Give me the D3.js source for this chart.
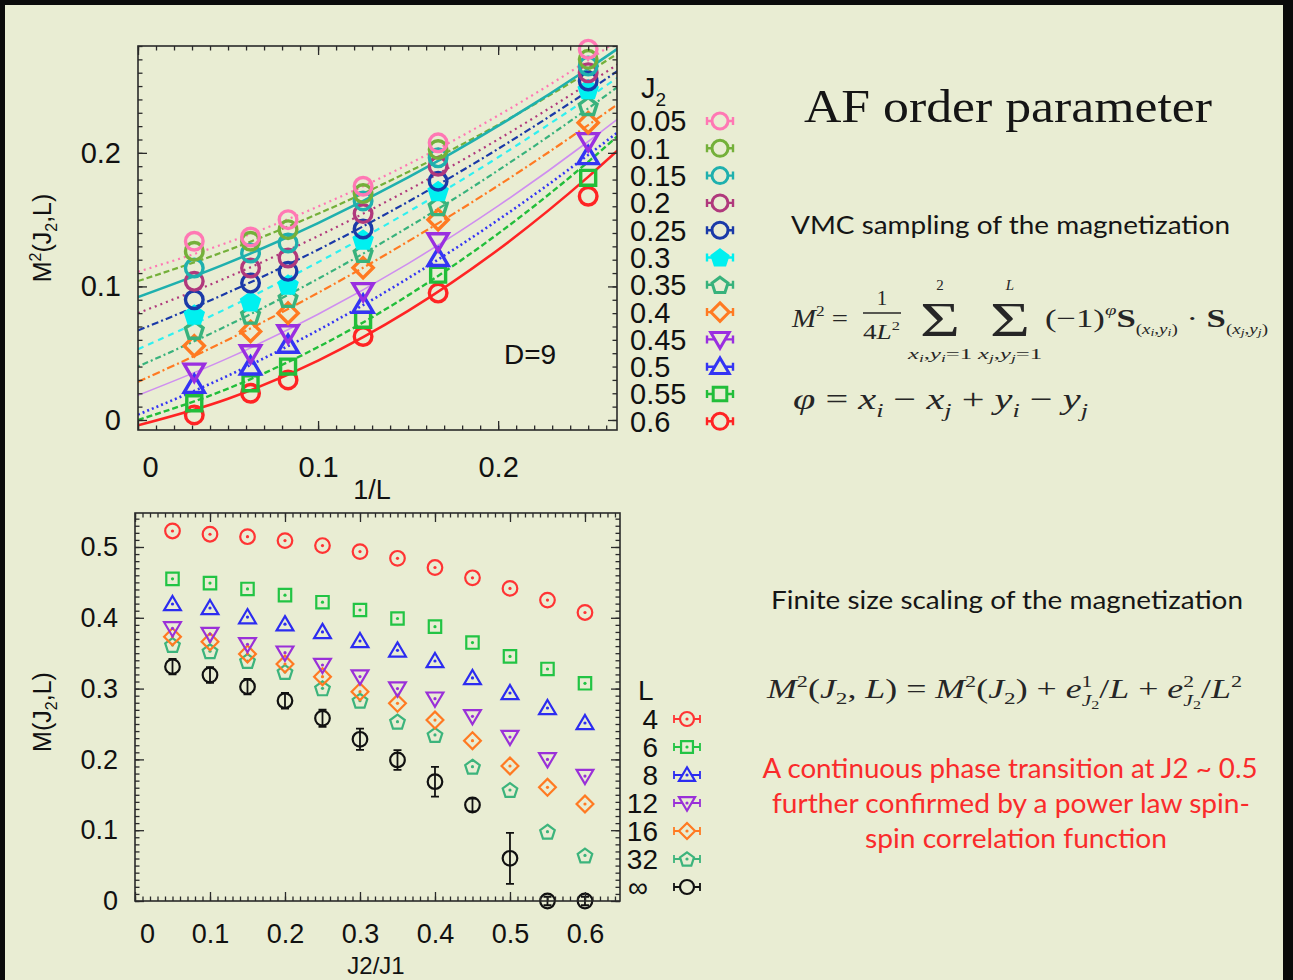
<!DOCTYPE html>
<html lang="en">
<head>
<meta charset="UTF-8">
<title>AF order parameter</title>
<script src="https://d3js.org/d3.v7.min.js"></script>
<style>
  body { margin: 0; background: #000; }
  svg { display: block; }
</style>
</head>
<body>
<svg id="slide" width="1293" height="980"></svg>
<script>
// ---------- data ----------
// top panel: M^2(J2,L) against 1/L, system sizes L
const Lsizes = [32, 16, 12, 8, 6, 4];
const j2Top = ['0.05', '0.1', '0.15', '0.2', '0.25', '0.3', '0.35', '0.4', '0.45', '0.5', '0.55', '0.6'];
const m2_005 = [0.1338, 0.1370, 0.1500, 0.1750, 0.2075, 0.2776];
const m2_010 = [0.1263, 0.1338, 0.1425, 0.1695, 0.2025, 0.2700];
const m2_015 = [0.1138, 0.1250, 0.1325, 0.1640, 0.1963, 0.2650];
const m2_020 = [0.1038, 0.1138, 0.1213, 0.1545, 0.1900, 0.2600];
const m2_025 = [0.0900, 0.1025, 0.1113, 0.1430, 0.1788, 0.2538];
const m2_030 = [0.0788, 0.0888, 0.1013, 0.1350, 0.1713, 0.2476];
const m2_035 = [0.0675, 0.0788, 0.0913, 0.1250, 0.1600, 0.2350];
const m2_040 = [0.0555, 0.0663, 0.0800, 0.1140, 0.1500, 0.2226];
const m2_045 = [0.0362, 0.0500, 0.0650, 0.0965, 0.1338, 0.2088];
const m2_050 = [0.0263, 0.0400, 0.0563, 0.0863, 0.1213, 0.1975];
const m2_055 = [0.0125, 0.0275, 0.0400, 0.0750, 0.1088, 0.1813];
const m2_060 = [0.0038, 0.0200, 0.0300, 0.0625, 0.0950, 0.1675];

// fitted curves, read at these 1/L positions
const fitX = [0, 0.05, 0.1, 0.15, 0.2, 0.25, 0.27];
const fit_005 = [0.111, 0.1330, 0.1598, 0.1914, 0.2280, 0.2693, 0.2873];
const fit_010 = [0.104, 0.1271, 0.1544, 0.1857, 0.2210, 0.2605, 0.2774];
const fit_015 = [0.092, 0.1176, 0.1474, 0.1816, 0.2202, 0.2630, 0.2814];
const fit_020 = [0.080, 0.1070, 0.1377, 0.1721, 0.2101, 0.2518, 0.2695];
const fit_025 = [0.067, 0.0954, 0.1275, 0.1634, 0.2030, 0.2463, 0.2647];
const fit_030 = [0.053, 0.0839, 0.1181, 0.1557, 0.1967, 0.2411, 0.2598];
const fit_035 = [0.040, 0.0709, 0.1057, 0.1443, 0.1869, 0.2333, 0.2530];
const fit_040 = [0.0285, 0.0601, 0.0952, 0.1337, 0.1755, 0.2208, 0.2399];
const fit_045 = [0.0185, 0.0463, 0.0791, 0.1171, 0.1603, 0.2085, 0.2292];
const fit_050 = [0.004, 0.0332, 0.0672, 0.1061, 0.1498, 0.1984, 0.2192];
const fit_055 = [0.000, 0.0235, 0.0546, 0.0933, 0.1395, 0.1933, 0.2169];
const fit_060 = [-0.004, 0.0159, 0.0445, 0.0817, 0.1275, 0.1820, 0.2062];

const topXTicks = [0, 0.1, 0.2];
const topYTicks = [0, 0.1, 0.2];

// bottom panel: M(J2,L) against J2/J1
const j2Bottom = [0.05, 0.1, 0.15, 0.2, 0.25, 0.3, 0.35, 0.4, 0.45, 0.5, 0.55, 0.6];
const legendL = ['4', '6', '8', '12', '16', '32', '\u221e'];
const mL4 = [0.5226, 0.5180, 0.5145, 0.5090, 0.5020, 0.4935, 0.4840, 0.4710, 0.4565, 0.4415, 0.4250, 0.4075];
const mL6 = [0.4550, 0.4490, 0.4407, 0.4320, 0.4220, 0.4110, 0.3990, 0.3875, 0.3650, 0.3455, 0.3277, 0.3075];
const mL8 = [0.4195, 0.4138, 0.4010, 0.3910, 0.3800, 0.3672, 0.3540, 0.3390, 0.3150, 0.2938, 0.2726, 0.2514];
const mL12 = [0.3850, 0.3770, 0.3626, 0.3507, 0.3333, 0.3170, 0.3000, 0.2857, 0.2609, 0.2316, 0.2000, 0.1765];
const mL16 = [0.3733, 0.3662, 0.3489, 0.3347, 0.3168, 0.2956, 0.2792, 0.2556, 0.2264, 0.1907, 0.1606, 0.1370];
const mL32 = [0.3616, 0.3528, 0.3390, 0.3234, 0.3004, 0.2829, 0.2533, 0.2345, 0.1897, 0.1568, 0.0979, 0.0643];
const mInf = [0.3310, 0.3192, 0.3027, 0.2829, 0.2581, 0.2284, 0.1992, 0.1685, 0.1356, 0.0603, 0, 0];
const mInfErr = [0.011, 0.011, 0.011, 0.011, 0.012, 0.015, 0.014, 0.021, 0.009, 0.036, 0.006, 0.006];

const botXTicks = [0, 0.1, 0.2, 0.3, 0.4, 0.5, 0.6];
const botYTicks = [0, 0.1, 0.2, 0.3, 0.4, 0.5];

// ---------- styles ----------
const topColors = ['#ff78b4', '#74b03a', '#1fb0ae', '#b0397c', '#1a3aa8', '#00f0f0',
                   '#38b27c', '#ff7a22', '#9a2fe0', '#3434f4', '#22be3a', '#ff2424'];
const topLineColors = ['#ff78b4', '#74b03a', '#1fb0ae', '#b0397c', '#1a3aa8', '#30f0f0',
                       '#38b27c', '#ff7a22', '#cf8ef0', '#3434f4', '#22be3a', '#ff2424'];
const topShapes = ['circle', 'circle', 'circle', 'circle', 'circle', 'pentagonFill',
                   'pentagon', 'diamond', 'triDown', 'triUp', 'square', 'circle'];
const topDash = ['2,4', '6,3', null, '2,4', '7,3,2,3', '6,5', '2,3,6,3', '8,3,2,3', null, '2,3', '6,3', null];
const topWidth = [2.2, 2.2, 2.6, 2.2, 2.2, 2.2, 2.2, 2.2, 1.6, 2.6, 2.4, 2.6];

const botColors = ['#ff3434', '#22c444', '#2c2cf0', '#9a30d8', '#ff7a22', '#3cb47c', '#111111'];
const botShapes = ['circle', 'square', 'triUp', 'triDown', 'diamond', 'pentagon', 'circle'];

const axisFont = '"Liberation Sans", Arial, sans-serif';
const serif = '"Liberation Serif", "Times New Roman", serif';
const slideFont = 'Lato, "Open Sans", sans-serif';
const mathInk = '#262626';

function shapePath(type, r) {
  const p = d3.path();
  if (type === 'circle') {
    p.moveTo(r, 0); p.arc(0, 0, r, 0, 2 * Math.PI);
  } else if (type === 'square') {
    const s = r * 0.85; p.rect(-s, -s, 2 * s, 2 * s);
  } else if (type === 'triUp') {
    p.moveTo(0, -r * 1.1); p.lineTo(r * 1.15, r * 0.85); p.lineTo(-r * 1.15, r * 0.85); p.closePath();
  } else if (type === 'triDown') {
    p.moveTo(0, r * 1.1); p.lineTo(r * 1.15, -r * 0.85); p.lineTo(-r * 1.15, -r * 0.85); p.closePath();
  } else if (type === 'diamond') {
    p.moveTo(0, -r * 1.15); p.lineTo(r * 1.15, 0); p.lineTo(0, r * 1.15); p.lineTo(-r * 1.15, 0); p.closePath();
  } else {
    for (let k = 0; k < 5; k++) {
      const a = -Math.PI / 2 + k * 2 * Math.PI / 5;
      const px = r * 1.05 * Math.cos(a), py = r * 1.05 * Math.sin(a) + r * 0.1;
      k === 0 ? p.moveTo(px, py) : p.lineTo(px, py);
    }
    p.closePath();
  }
  return p.toString();
}

const svg = d3.select('#slide');
svg.append('rect').attr('width', 1293).attr('height', 980).attr('fill', '#0b0b0b');
svg.append('rect').attr('x', 5).attr('y', 5).attr('width', 1278).attr('height', 975).attr('fill', '#e9edd3');

// axis helper: ticks on all four sides pointing inward, labels on left/bottom
function drawFrame(g, x, y, xMajor, yMajor, xMinorStep, yMinorStep, fontSize, xPad, yPad) {
  const [x0, x1] = x.range(), [y0, y1] = y.range();
  const xd = x.domain(), yd = y.domain();
  const xMinor = d3.range(Math.ceil(xd[0] / xMinorStep) * xMinorStep, xd[1], xMinorStep);
  const yMinor = d3.range(Math.ceil(yd[0] / yMinorStep) * yMinorStep, yd[1], yMinorStep);
  const sides = [
    [d3.axisBottom, x, `translate(0,${y0})`, xMinor, xMajor, true],
    [d3.axisTop, x, `translate(0,${y1})`, xMinor, xMajor, false],
    [d3.axisLeft, y, `translate(${x0},0)`, yMinor, yMajor, true],
    [d3.axisRight, y, `translate(${x1},0)`, yMinor, yMajor, false]
  ];
  sides.forEach(([ax, sc, tr, minor, major, labels]) => {
    g.append('g').attr('transform', tr)
      .call(ax(sc).tickValues(minor).tickSize(-4.5).tickFormat(''))
      .call(s => s.select('.domain').remove());
    const isX = ax === d3.axisBottom || ax === d3.axisTop;
    g.append('g').attr('transform', tr).attr('class', labels ? (isX ? 'xlab' : 'ylab') : null)
      .call(ax(sc).tickValues(major).tickSize(-9)
        .tickPadding(isX ? xPad : yPad)
        .tickFormat(labels ? d3.format('') : ''))
      .call(s => s.select('.domain').remove());
  });
  g.selectAll('.tick line').attr('stroke', '#2a2a2a').attr('stroke-width', 1.3);
  g.selectAll('.tick text').attr('fill', '#111').attr('font-family', axisFont).attr('font-size', fontSize);
  g.append('rect').attr('x', x0).attr('y', y1).attr('width', x1 - x0).attr('height', y0 - y1)
    .attr('fill', 'none').attr('stroke', '#2a2a2a').attr('stroke-width', 1.6);
  // first x label is nudged right, as on the slide
  g.select('.xlab .tick text').attr('dx', 12);
}

// ================= top panel =================
const xT = d3.scaleLinear().domain([0, 0.266]).range([138, 617]);
const yT = d3.scaleLinear().domain([-0.0075, 0.28]).range([430, 46]);
const topPanel = svg.append('g');

svg.append('clipPath').attr('id', 'clipTop').append('rect')
  .attr('x', 138).attr('y', 46).attr('width', 479).attr('height', 384);

const topSeries = [m2_005, m2_010, m2_015, m2_020, m2_025, m2_030, m2_035, m2_040, m2_045, m2_050, m2_055, m2_060];
const topFits = [fit_005, fit_010, fit_015, fit_020, fit_025, fit_030, fit_035, fit_040, fit_045, fit_050, fit_055, fit_060];

const fitLine = d3.line().x(d => xT(d[0])).y(d => yT(d[1])).curve(d3.curveMonotoneX);
const lines = topPanel.append('g').attr('clip-path', 'url(#clipTop)');
topFits.forEach((f, i) => {
  lines.append('path')
    .attr('d', fitLine(fitX.map((xv, k) => [xv, f[k]])))
    .attr('fill', 'none')
    .attr('stroke', topLineColors[i])
    .attr('stroke-width', topWidth[i])
    .attr('stroke-dasharray', topDash[i]);
});

const topMarks = topPanel.append('g');
for (let i = topSeries.length - 1; i >= 0; i--) {
  topSeries[i].forEach((v, k) => {
    const filled = topShapes[i] === 'pentagonFill';
    topMarks.append('path')
      .attr('transform', `translate(${xT(1 / Lsizes[k])},${yT(v)})`)
      .attr('d', shapePath(filled ? 'pentagon' : topShapes[i], 8.8))
      .attr('fill', filled ? topColors[i] : 'none')
      .attr('stroke', topColors[i])
      .attr('stroke-width', 3.4);
  });
}

drawFrame(topPanel, xT, yT, topXTicks, topYTicks, 0.01, 0.01, 29, 26, 17);

topPanel.append('text').attr('x', 530).attr('y', 364).attr('text-anchor', 'middle')
  .attr('font-family', axisFont).attr('font-size', 28).attr('fill', '#111').text('D=9');
topPanel.append('text').attr('x', 372).attr('y', 499).attr('text-anchor', 'middle')
  .attr('font-family', axisFont).attr('font-size', 27).attr('fill', '#111').text('1/L');
const yTitleT = topPanel.append('text').attr('transform', 'translate(51,238) rotate(-90)')
  .attr('text-anchor', 'middle').attr('font-family', axisFont).attr('font-size', 25).attr('fill', '#111');
yTitleT.append('tspan').text('M');
yTitleT.append('tspan').attr('dy', -10).attr('font-size', 16).text('2');
yTitleT.append('tspan').attr('dy', 10).text('(J');
yTitleT.append('tspan').attr('dy', 6).attr('font-size', 16).text('2');
yTitleT.append('tspan').attr('dy', -6).text(',L)');

// top legend
const legT = topPanel.append('g');
const jHead = legT.append('text').attr('x', 641).attr('y', 98)
  .attr('font-family', axisFont).attr('font-size', 29).attr('fill', '#111');
jHead.append('tspan').text('J');
jHead.append('tspan').attr('dy', 8).attr('font-size', 19).text('2');
j2Top.forEach((lab, i) => {
  const yy = 121 + i * 27.3;
  legT.append('text').attr('x', 630).attr('y', yy).attr('dy', '0.36em')
    .attr('font-family', axisFont).attr('font-size', 29).attr('fill', '#111').text(lab);
  const c = topColors[i];
  legT.append('path').attr('d', `M707,${yy}H733M707,${yy - 4}V${yy + 4}M733,${yy - 4}V${yy + 4}`)
    .attr('stroke', c).attr('stroke-width', 2.4).attr('fill', 'none');
  const filled = topShapes[i] === 'pentagonFill';
  legT.append('path').attr('transform', `translate(720,${yy})`)
    .attr('d', shapePath(filled ? 'pentagon' : topShapes[i], 8))
    .attr('fill', filled ? c : '#e9edd3').attr('stroke', c).attr('stroke-width', 3);
});

// ================= bottom panel =================
const xB = d3.scaleLinear().domain([0, 0.6467]).range([135, 620]);
const yB = d3.scaleLinear().domain([0, 0.548]).range([901, 513]);
const botPanel = svg.append('g');

const botSeries = [mL4, mL6, mL8, mL12, mL16, mL32, mInf];
const botMarks = botPanel.append('g');
// error bars on the infinite size extrapolation
mInf.forEach((v, k) => {
  const cx = xB(j2Bottom[k]), ya = yB(v + mInfErr[k]), yb = yB(Math.max(v - mInfErr[k], -0.012));
  botMarks.append('path')
    .attr('d', `M${cx},${ya}V${yb}M${cx - 4},${ya}H${cx + 4}M${cx - 4},${yb}H${cx + 4}`)
    .attr('stroke', '#111').attr('stroke-width', 1.8).attr('fill', 'none');
});
for (let s = botSeries.length - 1; s >= 0; s--) {
  botSeries[s].forEach((v, k) => {
    const g = botMarks.append('g').attr('transform', `translate(${xB(j2Bottom[k])},${yB(v)})`);
    g.append('path').attr('d', shapePath(botShapes[s], 7.3))
      .attr('fill', 'none').attr('stroke', botColors[s]).attr('stroke-width', 2.2);
    if (s < 6) g.append('circle').attr('r', 1.6).attr('fill', botColors[s]);
  });
}

drawFrame(botPanel, xB, yB, botXTicks, botYTicks, 0.01, 0.01, 27, 23, 17);

botPanel.append('text').attr('x', 376).attr('y', 974).attr('text-anchor', 'middle')
  .attr('font-family', axisFont).attr('font-size', 24).attr('fill', '#111').text('J2/J1');
const yTitleB = botPanel.append('text').attr('transform', 'translate(51,712) rotate(-90)')
  .attr('text-anchor', 'middle').attr('font-family', axisFont).attr('font-size', 25).attr('fill', '#111');
yTitleB.append('tspan').text('M(J');
yTitleB.append('tspan').attr('dy', 6).attr('font-size', 16).text('2');
yTitleB.append('tspan').attr('dy', -6).text(',L)');

// bottom legend
const legB = botPanel.append('g');
legB.append('text').attr('x', 638).attr('y', 700)
  .attr('font-family', axisFont).attr('font-size', 28).attr('fill', '#111').text('L');
legendL.forEach((lab, i) => {
  const yy = 719 + i * 28;
  legB.append('text').attr('x', i === 6 ? 648 : 658).attr('y', yy).attr('dy', '0.36em').attr('text-anchor', 'end')
    .attr('font-family', axisFont).attr('font-size', 28).attr('fill', '#111').text(lab);
  const c = botColors[i];
  legB.append('path').attr('d', `M674,${yy}H700M674,${yy - 4}V${yy + 4}M700,${yy - 4}V${yy + 4}`)
    .attr('stroke', c).attr('stroke-width', 1.8).attr('fill', 'none');
  legB.append('path').attr('transform', `translate(687,${yy})`)
    .attr('d', shapePath(botShapes[i], 7))
    .attr('fill', '#e9edd3').attr('stroke', c).attr('stroke-width', 2.2);
  if (i < 6) legB.append('circle').attr('cx', 687).attr('cy', yy).attr('r', 1.6).attr('fill', c);
});

// ================= slide text =================
function plain(x, y, size, txt, opts = {}) {
  const t = svg.append('text').attr('x', x).attr('y', y)
    .attr('font-family', opts.font || slideFont).attr('font-size', size)
    .attr('fill', opts.fill || '#151515').attr('text-anchor', opts.anchor || 'start').text(txt);
  if (opts.len) t.attr('textLength', opts.len).attr('lengthAdjust', 'spacingAndGlyphs');
  return t;
}
// math text: parts with italic/bold, shift (em, down positive) and scale
function mathText(x, y, size, parts, len, anchor) {
  const t = svg.append('text').attr('x', x).attr('y', y)
    .attr('font-family', serif).attr('font-size', size).attr('fill', mathInk)
    .attr('text-anchor', anchor || 'start')
    .attr('xml:space', 'preserve');
  let cur = 0;
  parts.forEach(p => {
    const s = (p.s || 0) * size;
    const ts = t.append('tspan').attr('dy', s - cur).text(p.t)
      .attr('font-size', size * (p.k || 1));
    if (p.dx) ts.attr('dx', p.dx);
    if (p.it) ts.attr('font-style', 'italic');
    if (p.b) ts.attr('font-weight', 'bold');
    cur = s;
  });
  if (len) t.attr('textLength', len).attr('lengthAdjust', 'spacingAndGlyphs');
  return t;
}

plain(804, 122, 46, 'AF order parameter', { font: serif, len: 408 });
plain(791, 234, 25, 'VMC sampling of the magnetization', { len: 439 });
plain(771, 609, 25, 'Finite size scaling of the magnetization', { len: 472 });

// M^2 = 1/(4L^2) sum sum (-1)^phi S . S
mathText(792, 327, 26, [{ t: 'M', it: true }, { t: '2', s: -0.42, k: 0.6 }, { t: ' =' }], 56);
svg.append('line').attr('x1', 863).attr('x2', 901).attr('y1', 313).attr('y2', 313)
  .attr('stroke', mathInk).attr('stroke-width', 1.3);
mathText(882, 305, 21, [{ t: '1' }], null, 'middle');
mathText(863, 339, 21, [{ t: '4' }, { t: 'L', it: true }, { t: '2', s: -0.45, k: 0.6 }], 37);
[[940, '2', 'i'], [1010, 'L', 'j']].forEach(([cx, upper, idx]) => {
  svg.append('text').attr('x', cx - 20).attr('y', 336)
    .attr('font-family', serif).attr('font-size', 48).attr('fill', mathInk)
    .attr('textLength', 40).attr('lengthAdjust', 'spacingAndGlyphs').text('\u03a3');
  svg.append('text').attr('x', cx).attr('y', 290).attr('text-anchor', 'middle')
    .attr('font-family', serif).attr('font-size', 15).attr('font-style', upper === 'L' ? 'italic' : 'normal')
    .attr('fill', mathInk).text(upper);
  mathText(cx - 32, 359, 15, [
    { t: 'x', it: true }, { t: idx, it: true, s: 0.2, k: 0.7 }, { t: ',' },
    { t: 'y', it: true }, { t: idx, it: true, s: 0.2, k: 0.7 }, { t: '=1' }
  ], 64);
});
mathText(1045, 327, 26, [
  { t: '(\u22121)' }, { t: '\u03c6', it: true, s: -0.45, k: 0.6 },
  { t: 'S', b: true }, { t: '(', s: 0.25, k: 0.55 }, { t: 'x', it: true, s: 0.25, k: 0.55 },
  { t: 'i', it: true, s: 0.35, k: 0.4 }, { t: ',', s: 0.25, k: 0.55 }, { t: 'y', it: true, s: 0.25, k: 0.55 },
  { t: 'i', it: true, s: 0.35, k: 0.4 }, { t: ')', s: 0.25, k: 0.55 },
  { t: ' \u00b7 ' }, { t: 'S', b: true }, { t: '(', s: 0.25, k: 0.55 }, { t: 'x', it: true, s: 0.25, k: 0.55 },
  { t: 'j', it: true, s: 0.35, k: 0.4 }, { t: ',', s: 0.25, k: 0.55 }, { t: 'y', it: true, s: 0.25, k: 0.55 },
  { t: 'j', it: true, s: 0.35, k: 0.4 }, { t: ')', s: 0.25, k: 0.55 }
], 223);

// phi = xi - xj + yi - yj
mathText(793, 409, 30, [
  { t: '\u03c6', it: true }, { t: ' = ' }, { t: 'x', it: true }, { t: 'i', it: true, s: 0.25, k: 0.65 },
  { t: ' \u2212 ' }, { t: 'x', it: true }, { t: 'j', it: true, s: 0.25, k: 0.65 },
  { t: ' + ' }, { t: 'y', it: true }, { t: 'i', it: true, s: 0.25, k: 0.65 },
  { t: ' \u2212 ' }, { t: 'y', it: true }, { t: 'j', it: true, s: 0.25, k: 0.65 }
], 295);

// M^2(J2,L) = M^2(J2) + e1/L + e2/L^2
mathText(767, 698, 27, [
  { t: 'M', it: true }, { t: '2', s: -0.42, k: 0.62 }, { t: '(' }, { t: 'J', it: true },
  { t: '2', s: 0.22, k: 0.65 }, { t: ', ' }, { t: 'L', it: true }, { t: ') = ' },
  { t: 'M', it: true }, { t: '2', s: -0.42, k: 0.62 }, { t: '(' }, { t: 'J', it: true },
  { t: '2', s: 0.22, k: 0.65 }, { t: ') + ' }, { t: 'e', it: true },
  { t: '1', s: -0.42, k: 0.6 }, { t: 'J', it: true, s: 0.3, k: 0.6, dx: -8 }, { t: '2', s: 0.42, k: 0.45 },
  { t: '/' }, { t: 'L', it: true }, { t: ' + ' }, { t: 'e', it: true },
  { t: '2', s: -0.42, k: 0.6 }, { t: 'J', it: true, s: 0.3, k: 0.6, dx: -8 }, { t: '2', s: 0.42, k: 0.45 },
  { t: '/' }, { t: 'L', it: true }, { t: '2', s: -0.42, k: 0.62 }
], 475);

const red = '#fa2b2b';
plain(1010, 778, 26, 'A continuous phase transition at J2 ~ 0.5', { anchor: 'middle', fill: red, len: 495 });
plain(1011, 813, 26, 'further confirmed by a power law spin-', { anchor: 'middle', fill: red, len: 478 });
plain(1016, 848, 26, 'spin correlation function', { anchor: 'middle', fill: red, len: 302 });
</script>
</body>
</html>
